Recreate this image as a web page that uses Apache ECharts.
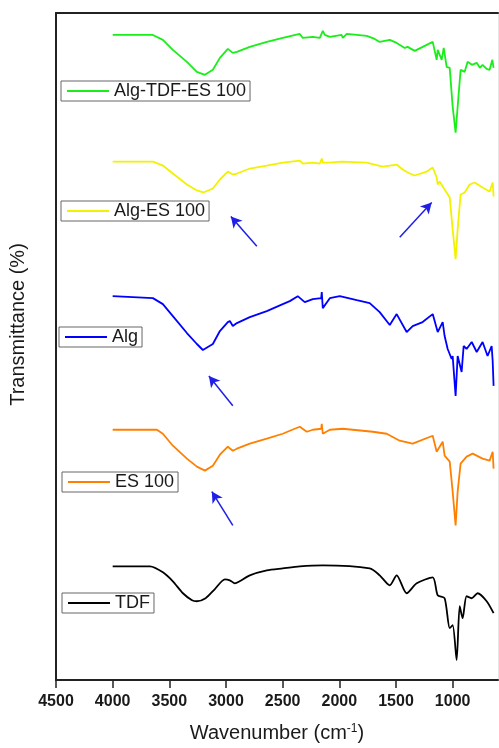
<!DOCTYPE html>
<html>
<head>
<meta charset="utf-8">
<script src="https://cdn.jsdelivr.net/npm/echarts@6.0.0/dist/echarts.min.js"></script>
<style>
  html, body { margin: 0; padding: 0; background: #fff; }
  #chart { width: 499px; height: 748px; }
</style>
</head>
<body>
<div id="chart"></div>
<script>
// FTIR spectra, [wavenumber, offset transmittance]
var algTdfEs = [[4000, 647], [3645, 647], [3557, 642], [3469, 632], [3345, 620], [3257, 610], [3186, 607],
    [3116, 612], [3054, 624], [2984, 633], [2940, 629], [2904, 630], [2790, 635], [2640, 640], [2499, 644],
    [2349, 648], [2322, 644], [2234, 645], [2172, 644], [2155, 646], [2146, 651], [2128, 647], [2084, 645],
    [1979, 647], [1970, 644], [1934, 648], [1758, 646], [1688, 643], [1644, 640], [1555, 642], [1494, 639],
    [1423, 634], [1397, 635], [1335, 631], [1229, 637], [1176, 640], [1141, 622], [1132, 632], [1097, 622],
    [1079, 634], [1053, 615], [1026, 614], [1000, 575], [974, 549], [956, 575], [930, 612], [894, 610],
    [868, 620], [830, 617], [788, 619], [760, 614], [736, 617], [700, 613], [674, 612], [650, 622], [639, 614]];
var algEs = [[4000, 520], [3645, 520], [3557, 516], [3469, 508], [3345, 497], [3257, 491], [3200, 489],
    [3116, 493], [3054, 502], [2984, 510], [2940, 507], [2904, 508], [2790, 513], [2640, 516], [2499, 519],
    [2349, 521], [2322, 518], [2234, 519], [2172, 518], [2155, 523], [2146, 519], [2084, 519], [1979, 520],
    [1970, 518], [1758, 519], [1688, 517], [1617, 515], [1555, 516], [1494, 517], [1441, 512], [1397, 509],
    [1335, 506], [1229, 510], [1176, 514], [1141, 504], [1132, 497], [1115, 500], [1071, 492], [1026, 484],
    [1000, 452], [974, 422], [956, 452], [930, 487], [894, 489], [850, 497], [806, 499], [736, 494],
    [674, 490], [647, 499], [639, 485]];
var alg = [[4000, 385], [3645, 383], [3557, 377], [3469, 365], [3345, 348], [3257, 337], [3204, 331],
    [3116, 337], [3054, 350], [2984, 359], [2966, 360], [2940, 355], [2904, 358], [2790, 364], [2640, 370],
    [2499, 377], [2437, 380], [2367, 385], [2305, 379], [2234, 382], [2160, 383], [2155, 389], [2146, 373],
    [2084, 383], [1996, 385], [1846, 381], [1732, 378], [1644, 369], [1555, 356], [1494, 367], [1406, 349],
    [1353, 355], [1265, 359], [1176, 367], [1132, 349], [1088, 359], [1071, 345], [1044, 332], [1009, 322],
    [1000, 325], [974, 285], [956, 325], [921, 309], [903, 335], [877, 332], [832, 339], [788, 329],
    [736, 339], [692, 325], [656, 335], [647, 320], [639, 295]];
var es100 = [[4000, 251], [3610, 251], [3557, 247], [3469, 235], [3345, 222], [3257, 214], [3186, 210],
    [3116, 215], [3054, 226], [2984, 234], [2940, 230], [2904, 232], [2790, 237], [2640, 242], [2499, 247],
    [2437, 250], [2349, 254], [2287, 249], [2234, 251], [2160, 252], [2155, 257], [2146, 247], [2084, 251],
    [1970, 252], [1705, 249], [1582, 247], [1467, 240], [1353, 237], [1176, 245], [1141, 229], [1088, 239],
    [1071, 225], [1026, 219], [1000, 189], [974, 155], [956, 189], [930, 217], [877, 224], [824, 227],
    [736, 222], [674, 220], [647, 229], [639, 212]];
var tdf = [[4000, 114], [3671, 114], [3557, 108], [3469, 99], [3380, 87], [3300, 80], [3257, 79],
    [3180, 82], [3100, 91], [3010, 101], [2966, 100], [2922, 97], [2880, 99], [2790, 105], [2640, 110],
    [2499, 112], [2349, 114], [2146, 115], [1732, 112], [1644, 105], [1555, 95], [1494, 105], [1406, 87],
    [1317, 97], [1176, 103], [1132, 85], [1071, 82], [1026, 52], [1000, 55], [965, 20], [938, 74],
    [912, 62], [877, 84], [832, 82], [780, 87], [700, 79], [639, 67]];

var seriesNames = ['Alg-TDF-ES 100', 'Alg-ES 100', 'Alg', 'ES 100', 'TDF'];
var seriesColors = ['#1aee1a', '#f2f200', '#0000ff', '#ff8000', '#000000'];
var seriesData = [algTdfEs, algEs, alg, es100, tdf];
var xTickValues = [4500, 4000, 3500, 3000, 2500, 2000, 1500, 1000];

// arrows: [tail, head]
var arrows = [
    [[2728, 435], [2957, 465]],
    [[1467, 444], [1185, 479]],
    [[2940, 275], [3151, 305]],
    [[2940, 155], [3125, 189]]
];

// legend boxes positions
var legendPos = [[61, 81], [61, 201], [59, 327], [62, 472], [62, 593]];

var chart = echarts.init(document.getElementById('chart'));
var font = '"Liberation Sans", Arial, sans-serif';

var series = seriesNames.map(function (name, i) {
    var s = {
        name: name,
        type: 'line',
        data: seriesData[i],
        showSymbol: false,
        symbol: 'none',
        smooth: i === 4 ? 0.25 : false,
        color: seriesColors[i],
        lineStyle: { width: 1.8, color: seriesColors[i] }
    };
    if (i === 2) {
        s.markLine = {
            silent: true,
            symbol: ['none', 'arrow'],
            symbolSize: [9, 11],
            label: { show: false },
            lineStyle: { color: '#1f1fe8', width: 1.5, type: 'solid' },
            data: arrows.map(function (a) {
                return [{ coord: a[0] }, { coord: a[1] }];
            })
        };
    }
    return s;
});

var legends = seriesNames.map(function (name, i) {
    return {
        data: [name],
        left: legendPos[i][0],
        top: legendPos[i][1],
        orient: 'horizontal',
        icon: 'rect',
        itemWidth: 42,
        itemHeight: 2,
        borderColor: '#666',
        borderWidth: 1,
        padding: [1, 4, 1, 6],
        selectedMode: false,
        textStyle: { fontSize: 18, color: '#1a1a1a', fontFamily: font }
    };
});

var option = {
    animation: false,
    backgroundColor: '#fff',
    grid: { left: 56, right: 1, top: 13, bottom: 66 },
    legend: legends,
    xAxis: [{
        type: 'value',
        min: 600,
        max: 4500,
        inverse: true,
        position: 'bottom',
        name: 'Wavenumber (cm{sup|-1})',
        nameLocation: 'middle',
        nameGap: 43,
        nameTextStyle: {
            fontSize: 20, color: '#1a1a1a', fontFamily: font,
            rich: { sup: { fontSize: 12, verticalAlign: 'top', padding: [0, 0, 8, 0], fontFamily: font, color: '#1a1a1a' } }
        },
        splitLine: { show: false },
        axisLine: { show: true, lineStyle: { color: '#222', width: 2 } },
        axisTick: { show: true, inside: false, length: 8, customValues: xTickValues, lineStyle: { color: '#222', width: 1.5 } },
        axisLabel: {
            customValues: xTickValues, margin: 14, fontSize: 16, fontWeight: 'bold', color: '#1a1a1a', fontFamily: font,
            formatter: function (v) { return String(v); }
        }
    }, {
        type: 'value',
        min: 600,
        max: 4500,
        inverse: true,
        position: 'top',
        splitLine: { show: false },
        axisLine: { show: true, onZero: false, lineStyle: { color: '#222', width: 2 } },
        axisTick: { show: false },
        axisLabel: { show: false }
    }],
    yAxis: [{
        type: 'value',
        min: 0,
        max: 669,
        position: 'left',
        name: 'Transmittance (%)',
        nameLocation: 'middle',
        nameGap: 28,
        nameTextStyle: { fontSize: 20, color: '#1a1a1a', fontFamily: font, padding: [0, 0, 0, 44] },
        splitLine: { show: false },
        axisLine: { show: true, onZero: false, lineStyle: { color: '#222', width: 2 } },
        axisTick: { show: false },
        axisLabel: { show: false }
    }, {
        type: 'value',
        min: 0,
        max: 669,
        position: 'right',
        splitLine: { show: false },
        axisLine: { show: true, onZero: false, lineStyle: { color: '#e4e4e4', width: 1 } },
        axisTick: { show: false },
        axisLabel: { show: false }
    }],
    series: series
};

chart.setOption(option);
</script>
</body>
</html>
